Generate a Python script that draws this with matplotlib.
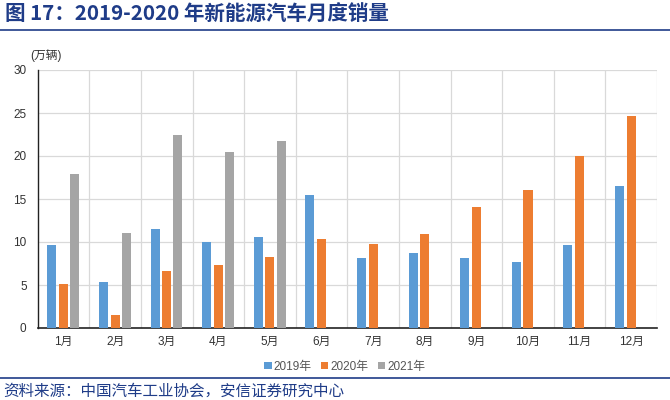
import numpy as np
import matplotlib.pyplot as plt
from matplotlib.lines import Line2D

plt.rcParams['font.family'] = ['Liberation Sans', 'Noto Sans CJK SC', 'DejaVu Sans']

# 数据（万辆）
meses = ["1月", "2月", "3月", "4月", "5月", "6月", "7月", "8月", "9月", "10月", "11月", "12月"]
ventas_2019 = [9.7, 5.3, 11.5, 10.0, 10.6, 15.5, 8.1, 8.7, 8.1, 7.7, 9.7, 16.5]
ventas_2020 = [5.1, 1.5, 6.6, 7.3, 8.2, 10.4, 9.8, 10.9, 14.1, 16.1, 20.0, 24.7]
ventas_2021 = [17.9, 11.0, 22.5, 20.5, 21.7]
series = ["2019年", "2020年", "2021年"]
colores = ["#5B9BD5", "#ED7D31", "#A5A5A5"]
navy = "#1F3C88"

fig = plt.figure(figsize=(6.7, 4.0), dpi=100)
ax = fig.add_axes([0.0563, 0.18, 0.9243, 0.645])

x = np.arange(len(meses))
ancho = 0.175
ax.bar(x - 0.225, ventas_2019, ancho, color=colores[0], label=series[0], zorder=3)
ax.bar(x, ventas_2020, ancho, color=colores[1], label=series[1], zorder=3)
ax.bar(x[:len(ventas_2021)] + 0.215, ventas_2021, ancho, color=colores[2], label=series[2], zorder=3)

ax.set_xlim(-0.5, len(meses) - 0.5)
ax.set_ylim(0, 30)
ax.set_yticks(range(0, 31, 5))
ax.set_xticks(x)
ax.set_xticklabels(meses, fontsize=8.5, color="#333333")
ax.tick_params(axis='y', labelsize=8.5, colors="#333333", length=0, pad=8)
ax.tick_params(axis='x', length=0, pad=6)

# Cuadrícula
for yv in range(5, 31, 5):
    ax.axhline(yv, color="#D9D9D9", lw=0.9, zorder=1)
for xv in np.arange(0.5, len(meses), 1.0):
    ax.axvline(xv, color="#D9D9D9", lw=0.9, zorder=1)

for s in ["top", "right"]:
    ax.spines[s].set_visible(False)
ax.spines["left"].set_color("#222222")
ax.spines["bottom"].set_color("#222222")
ax.spines["left"].set_linewidth(1.0)
ax.spines["bottom"].set_linewidth(1.2)

fig.text(0.045, 0.862, "(万辆)", fontsize=8.5, color="#333333", ha="left", va="center")

leg = fig.legend(loc="center", bbox_to_anchor=(0.515, 0.083), ncol=3, frameon=False,
                 fontsize=8.5, handlelength=0.6, handleheight=0.6, handletextpad=0.2,
                 columnspacing=0.8)
for t in leg.get_texts():
    t.set_color("#555555")

# Título y fuente
fig.text(0.008, 0.963, "图 17：2019-2020 年新能源汽车月度销量", fontsize=14.8,
         fontweight="bold", color=navy, ha="left", va="center",
         family=['Noto Sans CJK SC', 'DejaVu Sans'])
fig.add_artist(Line2D([0, 1], [0.925, 0.925], color=navy, lw=1.2, transform=fig.transFigure))
fig.add_artist(Line2D([0, 1], [0.055, 0.055], color=navy, lw=1.2, transform=fig.transFigure))
fig.text(0.005, 0.022, "资料来源：中国汽车工业协会，安信证券研究中心", fontsize=11.2,
         style="italic", color=navy, ha="left", va="center",
         family=['Noto Sans CJK SC', 'DejaVu Sans'])

fig.savefig("out.png", dpi=100)
